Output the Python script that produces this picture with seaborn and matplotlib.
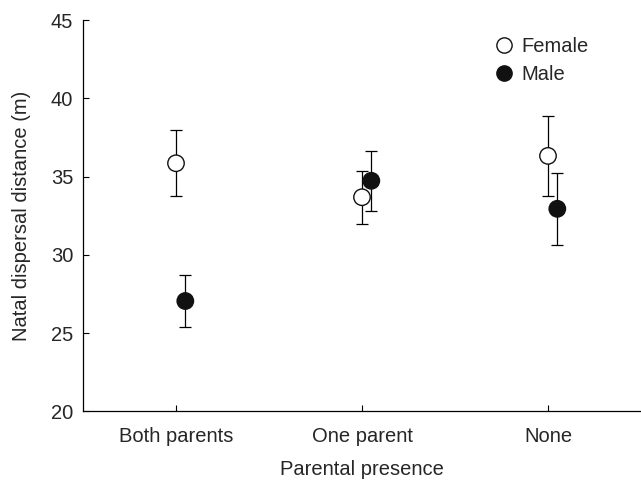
import numpy as np
import pandas as pd
import matplotlib
matplotlib.use("Agg")
import matplotlib.pyplot as plt
from matplotlib.lines import Line2D
import seaborn as sns

# valeurs
groups = ["Both parents", "One parent", "None"]
female_mean = [35.85, 33.68, 36.32]
female_err = [2.1, 1.7, 2.55]
male_mean = [27.05, 34.73, 32.94]
male_err = [1.67, 1.9, 2.3]

sns.set_style("ticks")
plt.rcParams["font.family"] = ["Liberation Sans", "DejaVu Sans"]

df = pd.DataFrame({
    "pos": list(range(3)) + [i + 0.05 for i in range(3)],
    "mean": female_mean + male_mean,
    "err": female_err + male_err,
    "Sex": ["Female"] * 3 + ["Male"] * 3,
})

fig = plt.figure(figsize=(6.41, 4.88), dpi=100)
ax = fig.add_axes([0.1295, 0.157, 0.8705, 0.802])

for sex in ["Female", "Male"]:
    d = df[df["Sex"] == sex]
    ax.errorbar(d["pos"], d["mean"], yerr=d["err"], fmt="none", ecolor="black",
                elinewidth=0.9, capsize=4, capthick=0.9, zorder=1)

sns.scatterplot(data=df, x="pos", y="mean", hue="Sex",
                palette={"Female": "white", "Male": "#111111"},
                marker="o", s=140, edgecolor="#111111", linewidth=1.0,
                zorder=3, ax=ax, legend=False)

fs = 14.5
ax.set_xlim(-0.5, 2.5)
ax.set_ylim(20, 45)
ax.set_xticks(range(3))
ax.set_xticklabels(groups)
ax.set_yticks([20, 25, 30, 35, 40, 45])
ax.tick_params(direction="in", length=4, width=0.8, labelsize=fs, color="black")
ax.tick_params(axis="x", pad=11)
ax.tick_params(axis="y", pad=7)
ax.set_xlabel("Parental presence", fontsize=fs, labelpad=10)
ax.set_ylabel("Natal dispersal distance (m)", fontsize=fs, labelpad=14)
sns.despine(ax=ax)
for s in ["left", "bottom"]:
    ax.spines[s].set_linewidth(0.9)
    ax.spines[s].set_color("black")

# légende
handles = [
    Line2D([], [], marker="o", ls="none", markersize=11, markerfacecolor="white",
           markeredgecolor="#111111", label="Female"),
    Line2D([], [], marker="o", ls="none", markersize=11, markerfacecolor="#111111",
           markeredgecolor="#111111", label="Male"),
]
ax.legend(handles=handles, loc="upper left", bbox_to_anchor=(0.70, 1.004),
          frameon=False, fontsize=fs, handletextpad=0.25, labelspacing=0.45,
          handlelength=1.2)

fig.savefig("out.png", dpi=100)
